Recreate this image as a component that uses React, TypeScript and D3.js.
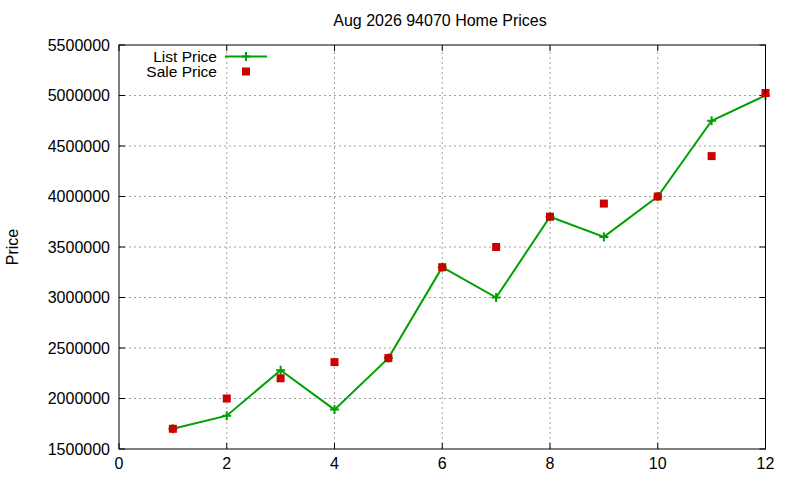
import React, { useEffect, useRef } from 'react';
import * as d3 from 'd3';

const months = [1, 2, 3, 4, 5, 6, 7, 8, 9, 10, 11, 12];
const listPrice = [1700000, 1830000, 2280000, 1890000, 2400000, 3300000, 3000000, 3800000, 3600000, 4000000, 4750000, 5000000];
const salePrice = [1700000, 2000000, 2200000, 2360000, 2400000, 3300000, 3500000, 3800000, 3930000, 4000000, 4400000, 5025000];
const xTicks = [0, 2, 4, 6, 8, 10, 12];
const yTicks = [1500000, 2000000, 2500000, 3000000, 3500000, 4000000, 4500000, 5000000, 5500000];

const App: React.FC = () => {
  const svgRef = useRef<SVGSVGElement | null>(null);

  useEffect(() => {
    document.body.style.margin = '0';
    if (!svgRef.current) return;

    const W = 800;
    const H = 480;
    const margin = { top: 45, right: 34.5, bottom: 31, left: 119 };
    const font = 'Liberation Sans, Arial, sans-serif';
    const green = '#00a000';
    const red = '#cc0000';

    const svg = d3.select(svgRef.current);
    svg.selectAll('*').remove();

    const x = d3.scaleLinear().domain([0, 12]).range([margin.left, W - margin.right]);
    const y = d3.scaleLinear().domain([1500000, 5500000]).range([H - margin.bottom, margin.top]);
    const [x0, x1] = x.range();
    const [y0, y1] = y.range();

    svg.append('rect').attr('width', W).attr('height', H).attr('fill', '#fff');

    // grid
    const grid = svg.append('g').attr('stroke', '#a0a0a0').attr('stroke-width', 1).attr('stroke-dasharray', '2,3');
    xTicks.slice(1, -1).forEach(t => {
      grid.append('line').attr('x1', x(t)).attr('x2', x(t)).attr('y1', y0).attr('y2', y1);
    });
    yTicks.slice(1, -1).forEach(t => {
      grid.append('line').attr('x1', x0).attr('x2', x1).attr('y1', y(t)).attr('y2', y(t));
    });

    // tick marks (mirrored, inward)
    const ticks = svg.append('g').attr('stroke', '#000').attr('stroke-width', 1);
    const tl = 6;
    xTicks.forEach(t => {
      ticks.append('line').attr('x1', x(t)).attr('x2', x(t)).attr('y1', y0).attr('y2', y0 - tl);
      ticks.append('line').attr('x1', x(t)).attr('x2', x(t)).attr('y1', y1).attr('y2', y1 + tl);
    });
    yTicks.forEach(t => {
      ticks.append('line').attr('x1', x0).attr('x2', x0 + tl).attr('y1', y(t)).attr('y2', y(t));
      ticks.append('line').attr('x1', x1).attr('x2', x1 - tl).attr('y1', y(t)).attr('y2', y(t));
    });

    // tick labels
    svg.append('g').selectAll('text').data(yTicks).join('text')
      .attr('x', x0 - 9).attr('y', d => y(d)).attr('dy', '0.36em')
      .attr('text-anchor', 'end').attr('font-family', font).attr('font-size', 16)
      .text(d => String(d));
    svg.append('g').selectAll('text').data(xTicks).join('text')
      .attr('x', d => x(d)).attr('y', y0 + 20)
      .attr('text-anchor', 'middle').attr('font-family', font).attr('font-size', 16)
      .text(d => String(d));

    // list price line
    const line = d3.line<number>().x((_, i) => x(months[i])).y(d => y(d));
    svg.append('path').datum(listPrice).attr('d', line)
      .attr('fill', 'none').attr('stroke', green).attr('stroke-width', 2);
    const plus = (g: d3.Selection<SVGGElement, unknown, null, undefined>, cx: number, cy: number) => {
      g.append('path').attr('d', `M${cx - 4.5},${cy}H${cx + 4.5}M${cx},${cy - 4.5}V${cy + 4.5}`)
        .attr('stroke', green).attr('stroke-width', 2).attr('fill', 'none');
    };
    const plusG = svg.append('g');
    listPrice.forEach((v, i) => plus(plusG, x(months[i]), y(v)));

    // sale price squares
    svg.append('g').selectAll('rect').data(salePrice).join('rect')
      .attr('x', (_, i) => x(months[i]) - 4).attr('y', d => y(d) - 4)
      .attr('width', 8).attr('height', 8).attr('fill', red);

    // border
    svg.append('rect').attr('x', x0).attr('y', y1).attr('width', x1 - x0).attr('height', y0 - y1)
      .attr('fill', 'none').attr('stroke', '#000').attr('stroke-width', 1);

    // legend
    const lg = svg.append('g').attr('font-family', font).attr('font-size', 15.5);
    lg.append('text').attr('x', 217).attr('y', 56.5).attr('dy', '0.36em').attr('text-anchor', 'end').text('List Price');
    lg.append('line').attr('x1', 225).attr('x2', 267).attr('y1', 56.5).attr('y2', 56.5)
      .attr('stroke', green).attr('stroke-width', 2);
    plus(lg as any, 246, 56.5);
    lg.append('text').attr('x', 217).attr('y', 71.5).attr('dy', '0.36em').attr('text-anchor', 'end').text('Sale Price');
    lg.append('rect').attr('x', 242).attr('y', 67.5).attr('width', 8).attr('height', 8).attr('fill', red);

    // title and axis label
    svg.append('text').attr('x', 440).attr('y', 20).attr('dy', '0.36em')
      .attr('text-anchor', 'middle').attr('font-family', font).attr('font-size', 16)
      .text('Aug 2026 94070 Home Prices');
    svg.append('text').attr('transform', `translate(12,${(y0 + y1) / 2}) rotate(-90)`).attr('dy', '0.36em')
      .attr('text-anchor', 'middle').attr('font-family', font).attr('font-size', 16)
      .text('Price');
  }, []);

  return <svg ref={svgRef} width={800} height={480} style={{ display: 'block' }} />;
};

export default App;
